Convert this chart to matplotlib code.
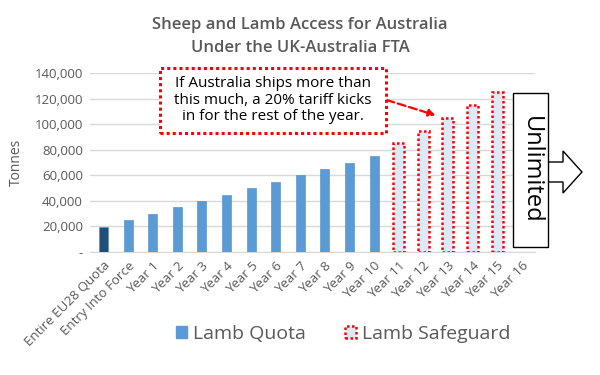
import matplotlib
matplotlib.use("Agg")
import matplotlib.pyplot as plt
from matplotlib.patches import FancyArrow, Rectangle, Patch

plt.rcParams['font.family'] = ['Open Sans', 'DejaVu Sans']

# data
categories = ['Entire EU28 Quota', 'Entry Into Force'] + ['Year %d' % i for i in range(1, 17)]
quota = [19186, 25000, 30000, 35000, 40000, 45000, 50000, 55000, 60000, 65000,
         70000, 75000, 0, 0, 0, 0, 0, 0]
safeguard = [0] * 12 + [85000, 95000, 105000, 115000, 125000, 0]
yticks = [0, 20000, 40000, 60000, 80000, 100000, 120000, 140000]
ytick_labels = ['-' if v == 0 else f'{v:,}' for v in yticks]

grey = '#595959'
blue = '#5b9bd5'
dark = '#1f4e79'
red = '#ff0000'
fill = '#dde9f6'
dots = (0, (1, 1))

fig = plt.figure(figsize=(6, 3.75), dpi=100)
ax = fig.add_axes([0.15, 0.328, 0.742, 0.477])

x = list(range(len(categories)))
qx = [i for i in x if quota[i] > 0]
qv = [quota[i] for i in qx]
qc = [dark if i == 0 else blue for i in qx]
sx = [i for i in x if safeguard[i] > 0]
sv = [safeguard[i] for i in sx]
ax.bar(qx, qv, width=0.36, color=qc, edgecolor='#4a8ac8', linewidth=0.4, zorder=3)
ax.bar(sx, sv, width=0.45, color=fill, edgecolor=red, linestyle=dots,
       linewidth=1.8, zorder=3)

ax.set_xlim(-0.55, 17.55)
ax.set_ylim(0, 140000)
ax.set_yticks(yticks)
ax.set_yticklabels(ytick_labels, color=grey, fontsize=9.5)
ax.set_xticks(x)
ax.set_xticklabels(categories, rotation=45, ha='right', rotation_mode='anchor',
                   color=grey, fontsize=9.5)
ax.tick_params(length=0, pad=5)
ax.grid(axis='y', color='#d9d9d9', linewidth=1, zorder=0)
for s in ['top', 'right', 'left']:
    ax.spines[s].set_visible(False)
ax.spines['bottom'].set_color('#d9d9d9')
ax.set_ylabel('Tonnes', color=grey, fontsize=10, labelpad=8)

fig.text(0.5, 0.955, 'Sheep and Lamb Access for Australia\nUnder the UK-Australia FTA',
         ha='center', va='top', fontsize=12, fontweight='semibold', color=grey,
         linespacing=1.6)

# annotation box
ax.annotate('', xy=(13.5, 107000), xytext=(11.5, 119000),
            arrowprops=dict(arrowstyle='-|>', color=red, linestyle='--', lw=1.6,
                            mutation_scale=10, shrinkA=0, shrinkB=0),
            annotation_clip=False)
fig.patches.append(Rectangle((160 / 600, 1 - 133 / 375), 226 / 600, 65 / 375,
                             transform=fig.transFigure, facecolor='white',
                             edgecolor=red, linestyle=dots, linewidth=2.2, zorder=5))
fig.text(273 / 600, 1 - 100 / 375,
         'If Australia ships more than\nthis much, a 20% tariff kicks\nin for the rest of the year.',
         ha='center', va='center', fontsize=11, color='black', zorder=6, linespacing=1.15)

# unlimited box and arrow
fig.patches.append(FancyArrow(545 / 600, 1 - 172 / 375, 18 / 600, 0,
                              width=20 / 375, head_width=42 / 375, head_length=19 / 600,
                              length_includes_head=False, transform=fig.transFigure,
                              facecolor='white', edgecolor='black', linewidth=1, zorder=4))
fig.patches.append(Rectangle((513 / 600, 1 - 247 / 375), 35 / 600, 154 / 375,
                             transform=fig.transFigure, facecolor='white',
                             edgecolor='black', linewidth=1, zorder=5))
fig.text(530.5 / 600, 1 - 170 / 375, 'Unlimited', rotation=-90, ha='center', va='center',
         fontsize=17, color='black', zorder=6)

handles = [Patch(facecolor=blue, edgecolor=blue),
           Patch(facecolor=fill, edgecolor=red, linestyle=dots, linewidth=1.8)]
fig.legend(handles, ['Lamb Quota', 'Lamb Safeguard'], loc='center',
           bbox_to_anchor=(0.572, 0.11), ncol=2, frameon=False, fontsize=14,
           labelcolor=grey, handlelength=0.6, handleheight=0.6, handletextpad=0.3,
           columnspacing=2.0)

fig.savefig('out.png', dpi=100)
